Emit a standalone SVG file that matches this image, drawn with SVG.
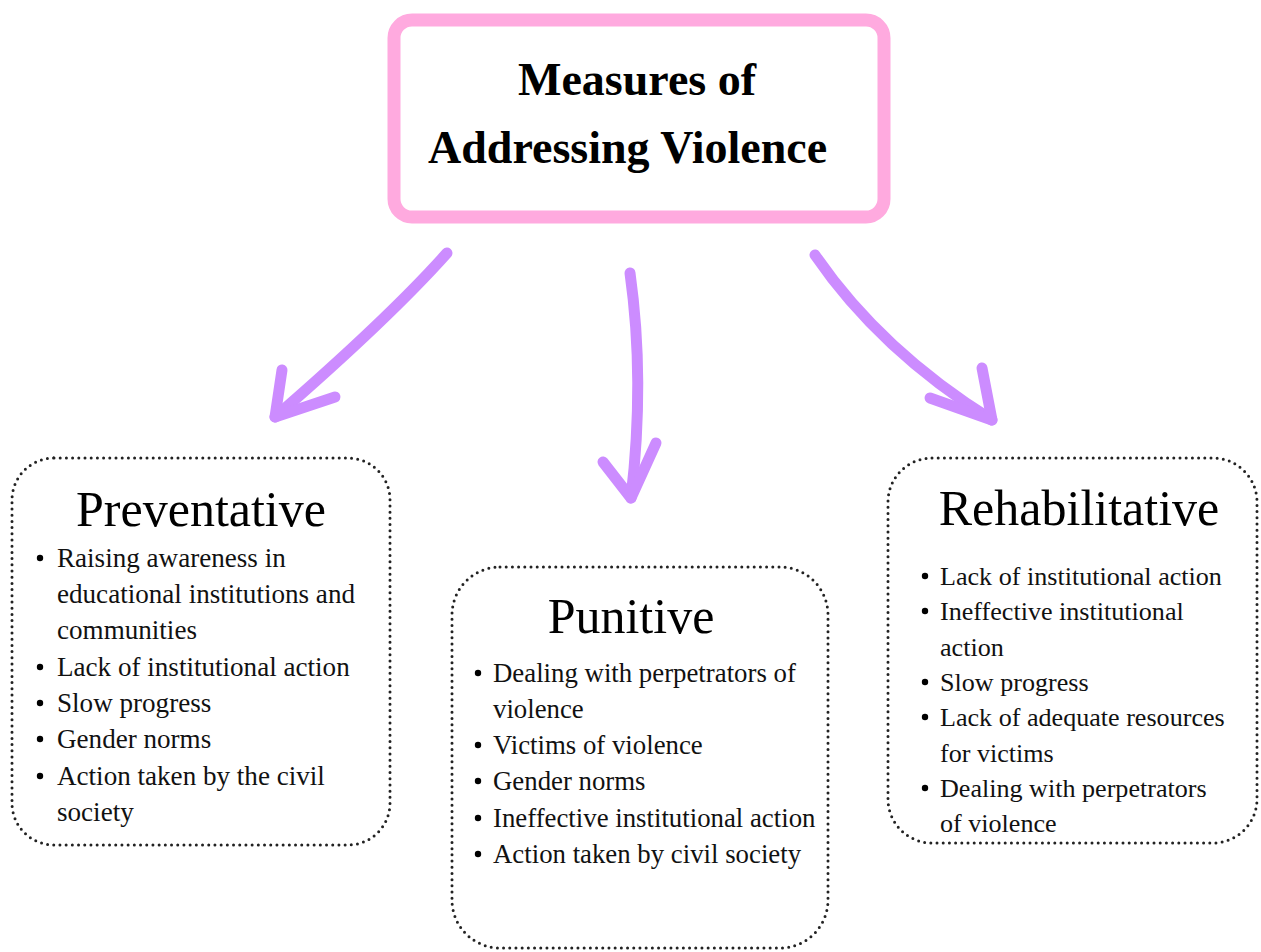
<svg xmlns="http://www.w3.org/2000/svg" width="1261" height="952" viewBox="0 0 1261 952">
  <style>
    .title { font-family: "Liberation Serif", "Times New Roman", serif; font-weight: bold; font-size: 46px; fill: #000; }
    .head { font-family: "Liberation Serif", "Times New Roman", serif; font-size: 50px; fill: #000; }
    .item { font-family: "Liberation Serif", "Times New Roman", serif; fill: #111; }
    .dotted { fill: #fff; stroke: #222; stroke-width: 3; stroke-dasharray: 0 6.2; stroke-linecap: round; }
    .arrow { fill: none; stroke: #CC8CFF; stroke-width: 11; stroke-linecap: round; stroke-linejoin: round; }
    .bullet { fill: #000; }
  </style>
  <rect width="1261" height="952" fill="#fff"/>

  <!-- connectors from the title to the three categories -->
  <g id="connectors">
    <path class="arrow" d="M447,253 Q389,318 275,417"/>
    <path class="arrow" d="M282,370 L275,417 L335,397"/>
    <path class="arrow" d="M630,273 Q645,380 631,498"/>
    <path class="arrow" d="M603,462 L631,498 L656,443"/>
    <path class="arrow" d="M815,255 Q880,350 992,420"/>
    <path class="arrow" d="M982,368 L992,420 L930,398"/>
  </g>

  <g id="title">
    <rect x="394" y="20" width="490" height="197" rx="18" fill="#fff" stroke="#FFAADF" stroke-width="13"/>
    <text class="title" x="518" y="95">Measures of</text>
    <text class="title" x="428" y="163">Addressing Violence</text>
  </g>

  <g id="preventative">
    <rect class="dotted" x="12" y="458" width="378" height="387" rx="42"/>
    <text class="head" x="201" y="526" text-anchor="middle">Preventative</text>
    <g class="item" font-size="27.1">
      <text x="57" y="567">Raising awareness in</text>
      <text x="57" y="603">educational institutions and</text>
      <text x="57" y="639">communities</text>
      <text x="57" y="676">Lack of institutional action</text>
      <text x="57" y="712">Slow progress</text>
      <text x="57" y="748">Gender norms</text>
      <text x="57" y="785">Action taken by the civil</text>
      <text x="57" y="821">society</text>
    </g>
    <circle class="bullet" cx="40" cy="558" r="3.2"/>
    <circle class="bullet" cx="40" cy="667" r="3.2"/>
    <circle class="bullet" cx="40" cy="703" r="3.2"/>
    <circle class="bullet" cx="40" cy="739" r="3.2"/>
    <circle class="bullet" cx="40" cy="776" r="3.2"/>
  </g>

  <g id="punitive">
    <rect class="dotted" x="452" y="567" width="376" height="381" rx="48"/>
    <text class="head" x="631" y="633" text-anchor="middle">Punitive</text>
    <g class="item" font-size="26.8">
      <text x="493" y="682">Dealing with perpetrators of</text>
      <text x="493" y="718">violence</text>
      <text x="493" y="754">Victims of violence</text>
      <text x="493" y="790">Gender norms</text>
      <text x="493" y="827">Ineffective institutional action</text>
      <text x="493" y="863">Action taken by civil society</text>
    </g>
    <circle class="bullet" cx="478" cy="673" r="3.2"/>
    <circle class="bullet" cx="478" cy="745" r="3.2"/>
    <circle class="bullet" cx="478" cy="781" r="3.2"/>
    <circle class="bullet" cx="478" cy="818" r="3.2"/>
    <circle class="bullet" cx="478" cy="854" r="3.2"/>
  </g>

  <g id="rehabilitative">
    <rect class="dotted" x="888" y="458" width="369" height="385" rx="44"/>
    <text class="head" x="1079" y="525" text-anchor="middle">Rehabilitative</text>
    <g class="item" font-size="26.1">
      <text x="940" y="585">Lack of institutional action</text>
      <text x="940" y="620">Ineffective institutional</text>
      <text x="940" y="655.5">action</text>
      <text x="940" y="691">Slow progress</text>
      <text x="940" y="726">Lack of adequate resources</text>
      <text x="940" y="761.5">for victims</text>
      <text x="940" y="797">Dealing with perpetrators</text>
      <text x="940" y="832">of violence</text>
    </g>
    <circle class="bullet" cx="925" cy="576" r="3.2"/>
    <circle class="bullet" cx="925" cy="611" r="3.2"/>
    <circle class="bullet" cx="925" cy="682" r="3.2"/>
    <circle class="bullet" cx="925" cy="717" r="3.2"/>
    <circle class="bullet" cx="925" cy="788" r="3.2"/>
  </g>
</svg>
